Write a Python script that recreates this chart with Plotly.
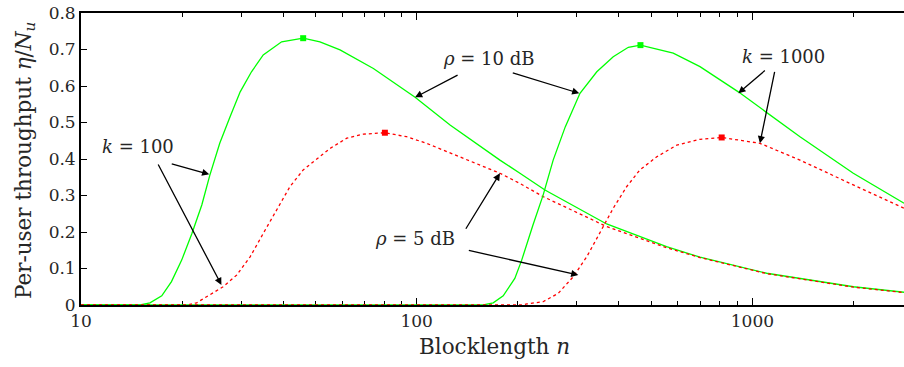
import numpy as np
import plotly.graph_objects as go

# ---- data ----
n_g100 = [10, 15, 16.05, 17.4, 18.6, 19.95, 21.4, 22.9, 24.2, 25.9, 27.8, 29.8, 32.2, 34.9, 39.6, 45.9,
          51.5, 59.1, 74.3, 98.9, 125.7, 154.4, 177, 203, 241, 368, 555, 698, 1103, 2000, 2830]
y_g100 = [0, 0, 0.006, 0.025, 0.064, 0.123, 0.196, 0.274, 0.356, 0.443, 0.516, 0.584, 0.639, 0.685, 0.721, 0.731,
          0.721, 0.699, 0.648, 0.569, 0.493, 0.434, 0.397, 0.361, 0.315, 0.222, 0.160, 0.131, 0.087, 0.050, 0.035]

n_r100 = [10, 20.7, 22.1, 24.2, 26.5, 29.1, 31.9, 34.9, 38.3, 41.9, 45.9, 50.4, 55.2, 61.9, 69.3, 80.4,
          93.3, 107, 141, 177, 203, 238, 368, 555, 698, 1103, 2000, 2830]
y_r100 = [0, 0, 0.006, 0.027, 0.050, 0.082, 0.132, 0.196, 0.260, 0.324, 0.370, 0.400, 0.429, 0.457, 0.468, 0.472,
          0.461, 0.443, 0.397, 0.361, 0.333, 0.297, 0.215, 0.157, 0.130, 0.086, 0.049, 0.034]

n_g1000 = [10, 158, 169, 181, 196, 205.5, 222, 238, 255, 277, 306.5, 344, 385, 427, 464, 581, 698, 908,
           1386, 1998, 2830]
y_g1000 = [0, 0, 0.006, 0.025, 0.073, 0.123, 0.219, 0.301, 0.397, 0.488, 0.580, 0.639, 0.680, 0.706, 0.712,
           0.690, 0.653, 0.584, 0.461, 0.361, 0.279]

n_r1000 = [10, 205, 213, 238, 264, 293, 321, 352, 385, 422, 462, 519, 595, 698, 810, 1053, 1386, 1998, 2830]
y_r1000 = [0, 0, 0.003, 0.009, 0.032, 0.078, 0.132, 0.201, 0.265, 0.324, 0.370, 0.406, 0.438, 0.454, 0.459,
           0.443, 0.397, 0.329, 0.265]

peak_n_green = [45.9, 464]
peak_y_green = [0.731, 0.712]
peak_n_red = [80.4, 810]
peak_y_red = [0.472, 0.459]

x_major = [10, 100, 1000]
x_major_text = ["10", "100", "1000"]
x_minor = [20, 30, 40, 50, 60, 70, 80, 90, 200, 300, 400, 500, 600, 700, 800, 900, 2000]
y_ticks = [0, 0.1, 0.2, 0.3, 0.4, 0.5, 0.6, 0.7, 0.8]
y_tick_text = ["0", "0.1", "0.2", "0.3", "0.4", "0.5", "0.6", "0.7", "0.8"]

x_title = "Blocklength <i>n</i>"
y_title = "Per-user throughput <i>η</i>/<i>N<sub>u</sub></i>"

# annotation texts: (label, n, y)
labels = [("<i>k</i> = 100", 14.8, 0.434),
          ("<i>ρ</i> = 10 dB", 164, 0.676),
          ("<i>ρ</i> = 5 dB", 98.9, 0.181),
          ("<i>k</i> = 1000", 1242, 0.682)]
# arrows: (head n, head y, tail dx px, tail dy px)
arrows = [(24.1, 0.358, -39, -11),
          (26.2, 0.055, -64, -122),
          (98.9, 0.569, 44, -23),
          (305, 0.580, -68, -21),
          (177, 0.361, -35, 57),
          (303, 0.082, -111, -25),
          (908, 0.580, 28, -24),
          (1053, 0.443, 15, -73)]

GREEN = "#00ff00"
RED = "#ff0000"
FONT = "DejaVu Serif"
TXT = "#262626"

fig = go.Figure()
fig.add_trace(go.Scatter(x=n_g100, y=y_g100, mode="lines", line=dict(color=GREEN, width=1.3), showlegend=False))
fig.add_trace(go.Scatter(x=n_r100, y=y_r100, mode="lines", line=dict(color=RED, width=1.3, dash="3px,3px"), showlegend=False))
fig.add_trace(go.Scatter(x=n_g1000, y=y_g1000, mode="lines", line=dict(color=GREEN, width=1.3), showlegend=False))
fig.add_trace(go.Scatter(x=n_r1000, y=y_r1000, mode="lines", line=dict(color=RED, width=1.3, dash="3px,3px"), showlegend=False))
fig.add_trace(go.Scatter(x=peak_n_green, y=peak_y_green, mode="markers",
                         marker=dict(symbol="square", size=6, color=GREEN), showlegend=False))
fig.add_trace(go.Scatter(x=peak_n_red, y=peak_y_red, mode="markers",
                         marker=dict(symbol="square", size=6, color=RED), showlegend=False))

for txt, n, y in labels:
    fig.add_annotation(x=np.log10(n), y=y, text=txt, showarrow=False,
                       font=dict(family=FONT, size=18, color=TXT))
for n, y, dx, dy in arrows:
    fig.add_annotation(x=np.log10(n), y=y, text="", showarrow=True, ax=dx, ay=dy,
                       arrowhead=2, arrowsize=1.1, arrowwidth=1.3, arrowcolor="black")

# axis titles as paper annotations (exact placement)
fig.add_annotation(xref="paper", yref="paper", x=0.503, y=-0.143, text=x_title, showarrow=False,
                   xanchor="center", yanchor="middle", font=dict(family=FONT, size=21.5, color=TXT))
fig.add_annotation(xref="paper", yref="paper", x=-0.068, y=0.493, text=y_title, showarrow=False,
                   textangle=-90, xanchor="center", yanchor="middle", font=dict(family=FONT, size=21.5, color=TXT))

fig.update_xaxes(type="log", range=[1, 3.4516], tickmode="array", tickvals=x_major, ticktext=x_major_text,
                 ticks="inside", ticklen=7, tickwidth=1.2, tickcolor="black",
                 minor=dict(tickmode="array", tickvals=x_minor, ticks="inside", ticklen=4, tickwidth=1, tickcolor="black", showgrid=False),
                 showline=True, linecolor="black", linewidth=1.8, mirror="allticks",
                 showgrid=False, zeroline=False, layer="below traces", automargin=False,
                 tickfont=dict(family=FONT, size=17, color=TXT))
fig.update_yaxes(range=[0, 0.8], tickmode="array", tickvals=y_ticks, ticktext=y_tick_text,
                 ticks="inside", ticklen=6, tickwidth=1.2, tickcolor="black",
                 showline=True, linecolor="black", linewidth=1.8, automargin=False,
                 showgrid=False, zeroline=False, layer="below traces",
                 tickfont=dict(family=FONT, size=17, color=TXT))

fig.update_layout(width=904, height=367, margin=dict(l=81, r=0, t=13, b=62, pad=0, autoexpand=False),
                  plot_bgcolor="white", paper_bgcolor="white")

fig.write_html("out.html", config={"displayModeBar": False},
               post_script="document.body.style.margin='0';document.body.style.overflow='hidden';")
